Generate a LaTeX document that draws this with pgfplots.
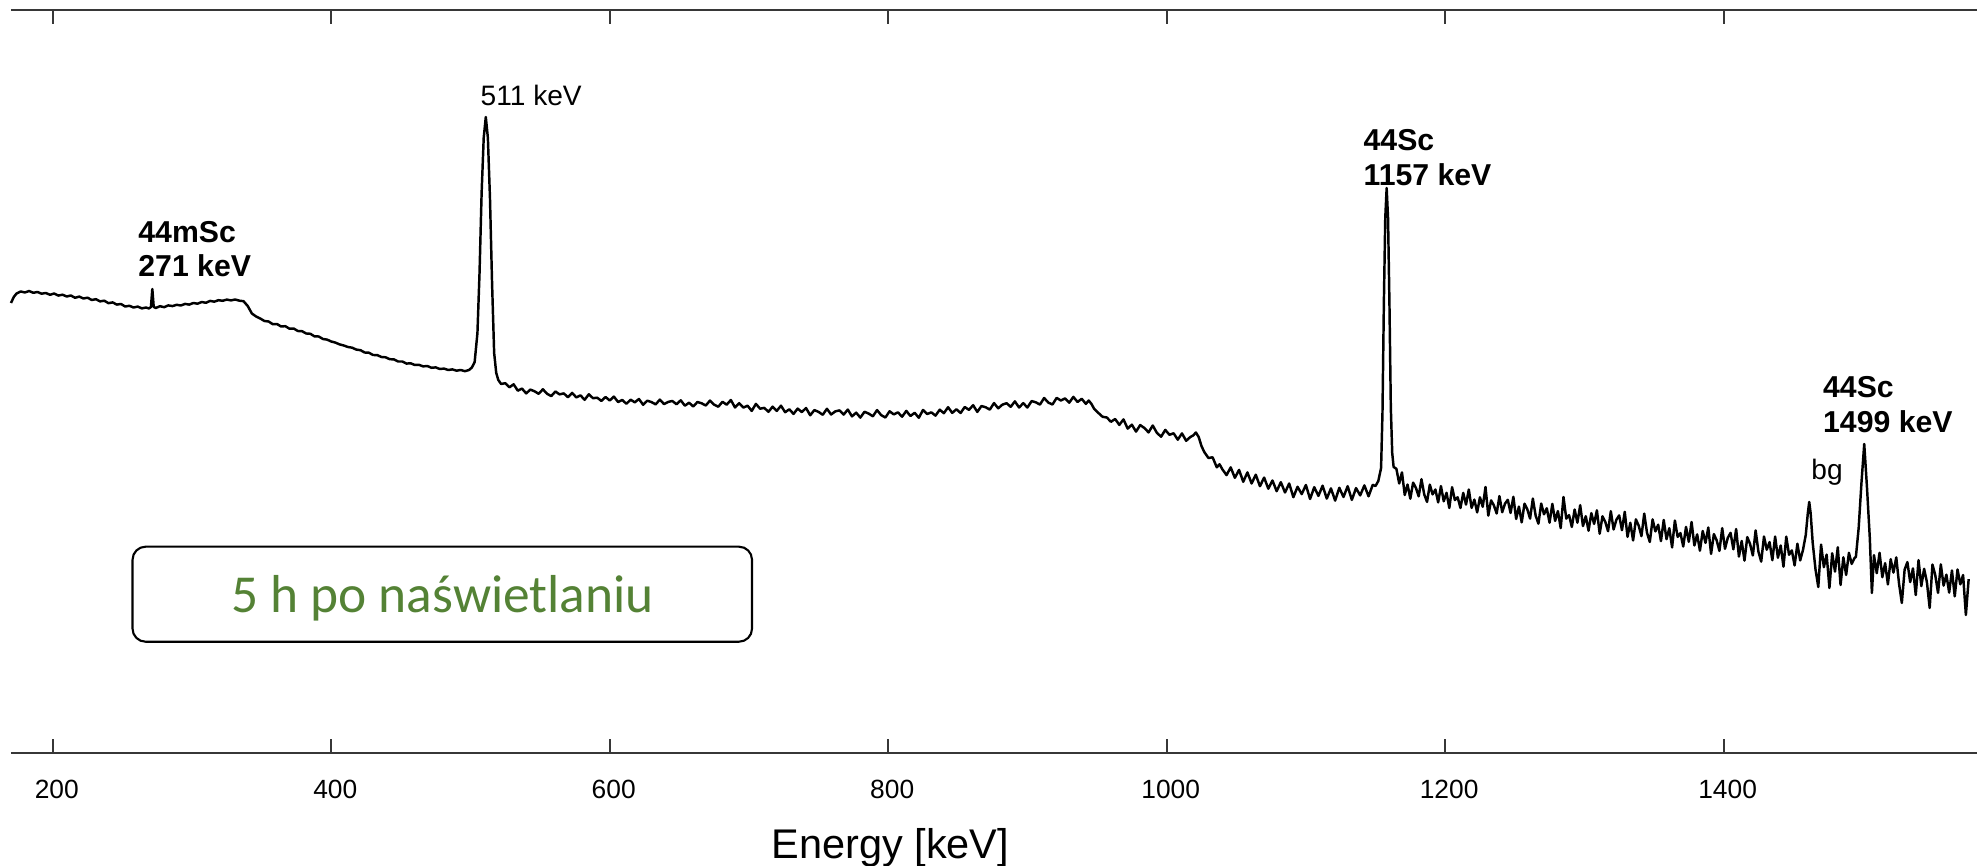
\documentclass[border=0pt]{standalone}
\usepackage{fontspec}
\setmainfont{Liberation Sans}
\newfontfamily\carlito{Carlito}
\usepackage{pgfplots}
\pgfplotsset{compat=1.18}
\definecolor{boxgreen}{RGB}{84,130,53}
\definecolor{axgray}{RGB}{55,55,55}
\begin{document}
\begin{tikzpicture}
\path[use as bounding box] (0,0) rectangle (197.7mm,86.6mm);
\begin{axis}[
  at={(1.1mm,11.3mm)}, anchor=south west,
  width=196.6mm, height=74.3mm, scale only axis,
  xmin=170, xmax=1582, ymin=0, ymax=743,
  axis x line=box, axis y line=none, ytick=\empty,
  xtick={200,400,600,800,1000,1200,1400},
  xticklabel pos=lower,
  tick align=inside,
  major tick length=1.44mm,
  axis line style={axgray, line width=0.6pt},
  every tick/.style={axgray, line width=0.6pt},
  /pgf/number format/assume math mode=true,
  /pgf/number format/1000 sep={},
  xticklabel style={font=\fontsize{7.5}{9}\selectfont, anchor=center, yshift=-3.6mm, xshift=0.4mm},
  clip=false,
]
\addplot[black, line width=0.7pt, line join=round] coordinates {
(170,450)(172,456)(174,459.5)(177,461.5)(180,460.5)(183,462)(186,460.2)(189,461)(192,459.3)(195,460)
(198,458.2)(201,459.5)(204,457.4)(207,458.3)(210,456.5)(213,457.5)(216,455.2)(219,456.4)(222,454.5)(225,455.3)
(228,453)(231,453.8)(234,451.6)(237,452.3)(240,449.8)(243,450.6)(246,448.4)(249,449)(252,446.5)(255,447.2)
(258,445.5)(261,446.4)(264,444.6)(267,445.5)(269,444.5)(270.5,446)(271.5,464)(272.5,446)(274,445)(277,446.8)
(280,445.8)(283,447.6)(286,446.9)(289,448.2)(292,447.5)(295,449.1)(298,448.4)(301,450)(304,449.3)(307,451)
(310,450.2)(313,452.1)(316,451.3)(319,452.8)(322,452.2)(325,453.4)(328,452.6)(331,453.5)(334,452.3)(337,451.8)
(340,447)(343,439.5)(346,436.5)(349,434.5)(352,432)(355,431.5)(358,428.8)(361,429)(364,426.5)(367,426.8)
(370,424.3)(373,424.5)(376,422)(379,421.8)(382,419.5)(385,419.2)(388,416.6)(391,416.5)(394,414)(397,413.4)
(400,411.5)(403,410.4)(406,408.6)(409,407.5)(412,406)(415,405.3)(418,403.4)(421,402.8)(424,400.5)(427,400.3)
(430,398)(433,397.9)(436,396)(439,395.7)(442,393.8)(445,393.6)(448,391.5)(451,391.5)(454,389.4)(457,389.7)
(460,388)(463,388.2)(466,386.6)(469,387)(472,385.2)(475,385.6)(478,384)(481,384.4)(484,383)(487,383.6)
(490,382.3)(493,383)(496,381.8)(499,383)
(501,385.5)(503,391)(505,420)(506.5,480)(508,560)(509.5,615)(511,636)(512.5,615)(514,555)(515.5,470)
(517,400)(518.5,380)(520,373)(522,369)
(525,369.8)(528,365.7)(531,368.7)(534,362.3)(537,364.4)(540,359.6)(543,363.4)(546,361.7)(549,359.2)(552,363.7)
(555,359.2)(558,356.9)(561,361.5)(564,358.6)(567,359.6)(570,355.8)(573,360.1)(576,355.6)(579,357.6)(582,353.2)
(585,358.7)(588,354.8)(591,355.3)(594,352.1)(597,356.0)(600,352.5)(603,356.4)(606,351.0)(609,353.0)(612,349.2)
(615,353.3)(618,350.7)(621,354.0)(624,348.2)(627,352.3)(630,350.9)(633,348.6)(636,353.4)(639,348.9)(642,351.1)
(645,352.0)(648,348.7)(651,352.7)(654,347.3)(657,350.3)(660,346.5)(663,351.0)(666,349.7)(669,347.5)(672,352.4)
(675,348.3)(678,346.3)(681,351.2)(684,348.3)(687,353)(690,345.5)(693,349.8)(696,345.4)(699,347.3)(702,342.1)
(705,349.1)(708,344.3)(711,345.1)(714,341.2)(717,346.3)(720,342.1)(723,347.3)(726,340.8)(729,343.7)(732,339.1)
(735,344.4)(738,340.9)(741,345.0)(744,337.7)(747,342.9)(750,341.1)(753,338.2)(756,344.2)(759,338.5)(762,341.6)
(765,342.6)(768,338.4)(771,343.4)(774,336.6)(777,340.3)(780,335.4)(783,341.2)(786,339.4)(789,336.7)(792,342.9)
(795,337.8)(798,335.5)(801,341.7)(804,338.6)(807,340.6)(810,336.3)(813,342.1)(816,337.0)(819,340.2)(822,335.2)
(825,343.0)(828,339.0)(831,340.6)(834,337.4)(837,343.3)(840,339.8)(843,345.8)(846,340.1)(849,343.7)(852,340.0)
(855,346.0)(858,343.1)(861,347.8)(864,341.1)(867,347.0)(870,345.7)(873,343.4)(876,349.9)(879,344.7)(882,348.3)
(885,349.8)(888,346.2)(891,351.6)(894,345.5)(897,349.8)(900,345.5)(903,351.9)(906,350.7)(909,348.4)(912,355.0)
(915,350.4)(918,348.5)(921,355.1)(924,352.5)(927,354.6)(930,350.3)(933,356.1)(936,351.0)(939,354.2)(942,349.1)
(944,352.5)(946,349)(948,344)(951,340)(954,336.2)(957,335.5)(960,331.2)(963,334.0)(966,328.1)(969,333.6)
(972,324.4)(975,328.3)(978,321.4)(981,327.9)(984,325.0)(987,320.6)(990,327.5)(993,320.1)(996,316.3)(999,323.1)
(1002,318.2)(1005,319.7)(1008,313.3)(1011,319.6)(1014,312.2)(1017,316)(1019,317.5)(1021,320.5)(1023,316)(1025,307)
(1027,301)(1030,295)(1033,295.7)(1036,285.7)(1038,288.7)
(1040,283.7)(1043,277.9)(1046,285.6)(1049,275.2)(1052,283.1)(1055,271.2)(1058,280.6)(1061,269.5)(1064,278.3)(1067,266.8)
(1070,275.4)(1073,264.3)(1076,272.5)(1079,261.8)(1082,270.8)(1085,260.5)(1088,269.5)(1091,255.8)(1094,266.2)(1097,258.9)
(1100,268)(1103,254)(1106,265.8)(1109,257.1)(1112,267.3)(1115,254.4)(1118,264.6)(1121,252.4)(1124,265.2)(1127,256)
(1130,266.8)(1133,253.1)(1136,264.9)(1139,257.6)(1142,267.6)(1145,256.7)(1148,268.1)(1150,267)
(1152,272)(1154,285)(1155,340)(1156,450)(1157,535)(1158,565)(1159,535)(1160,450)(1161,345)(1162,300)(1163,286)
(1165,284.2)(1167,269.5)(1169,280.6)(1171,258)(1173,268.5)(1175,254.3)(1177,270.4)(1179,265.2)(1181,256.7)(1183,273.8)
(1185,258.5)(1187,251.1)(1189,268.3)(1191,258.6)(1193,263.5)(1195,250.6)(1197,266.9)(1199,251.7)(1201,260.2)(1203,245)
(1205,265.8)(1207,252.9)(1209,255.7)(1211,245)(1213,260.1)(1215,248.4)(1217,263.5)(1219,245.1)(1221,253.4)(1223,240.6)
(1225,255.7)(1227,246.2)(1229,266)(1231,237.4)(1233,252.6)(1235,247.7)(1237,239.5)(1239,256.9)(1241,240.8)(1243,249.4)
(1245,253.2)(1247,240)(1249,256.2)(1251,234)(1253,246.4)(1255,230.6)(1257,249.3)(1259,243.8)(1261,234.4)(1263,254.4)
(1265,237.4)(1267,229.3)(1269,249.4)(1271,238.7)(1273,244.7)(1275,230.3)(1277,249.1)(1279,232.1)(1281,241.9)(1283,224.9)
(1285,256)(1287,234.4)(1289,237.9)(1291,226)(1293,243.5)(1295,230.3)(1297,247.8)(1299,226.9)(1301,236.8)(1303,222.3)
(1305,239.8)(1307,229.1)(1309,242.7)(1311,219.3)(1313,236.7)(1315,231.2)(1317,221.8)(1319,241.8)(1321,223.5)(1323,233.3)
(1325,237.6)(1327,222.8)(1329,241.2)(1331,216.2)(1333,230.2)(1335,212.5)(1337,233.6)(1339,227.4)(1341,216.9)(1343,239.4)
(1345,220.2)(1347,211)(1349,233.6)(1351,221.6)(1353,228.3)(1355,211.9)(1357,233)(1359,213.8)(1361,224.8)(1363,205.6)
(1365,232.5)(1367,216.1)(1369,219.9)(1371,206.5)(1373,226.1)(1375,211.2)(1377,231)(1379,207.5)(1381,218.6)(1383,202.3)
(1385,222)(1387,210.1)(1389,225.5)(1391,199.1)(1393,218.9)(1395,212.7)(1397,202.1)(1399,224.8)(1401,204.2)(1403,215.2)
(1405,220.1)(1407,203.7)(1409,224)(1411,196.4)(1413,212)(1415,192.4)(1417,215.9)(1419,209.1)(1421,197.5)(1423,222.6)
(1425,201.4)(1427,191.4)(1429,216.5)(1431,203.3)(1433,210.9)(1435,192.8)(1437,216.4)(1439,195.2)(1441,207.5)(1443,186.3)
(1445,216.3)(1447,198.2)(1449,202.6)(1451,187.5)(1453,209.3)(1455,192.6)(1457,203)(1459,218)(1460.5,240)(1461.5,251)
(1462.5,240)(1464,210)(1466,183.7)(1468,166)(1470,208.4)(1472,185.8)(1474,198.4)(1476,165)(1478,199.7)(1480,181.4)
(1482,205.7)(1484,168)(1486,195.7)(1488,178)(1490,200.2)(1492,189.1)(1494,195)(1495,196)(1497,225)(1499,270)
(1501,309)(1503,265)(1505,215)(1506.5,160)(1508,197.8)(1510,179.8)(1512,200.2)(1514,175.8)(1516,189.8)(1518,168.6)
(1520,193.8)(1522,180.4)(1524,195.6)(1526,169.3)(1528,150)(1530,183.3)(1532,190.9)(1534,170.9)(1536,184.6)(1538,158)
(1540,192.8)(1542,166.9)(1544,184.2)(1546,171)(1548,145)(1550,188.4)(1552,178)(1554,160.1)(1556,188.6)(1558,167.4)
(1560,178.3)(1562,160.4)(1564,182.5)(1566,156.6)(1568,183.5)(1570,168.7)(1572,178)(1574,138)(1576,173.9)
};
% annotations
\node[anchor=base west, inner sep=0, font=\fontsize{8}{9.6}\selectfont] at (axis cs:506.8,647) {511 keV};
\node[anchor=base west, inner sep=0, font=\bfseries\fontsize{8.6}{10}\selectfont] at (axis cs:261,510) {44mSc};
\node[anchor=base west, inner sep=0, font=\bfseries\fontsize{8.6}{10}\selectfont] at (axis cs:261,476) {271 keV};
\node[anchor=base west, inner sep=0, font=\bfseries\fontsize{8.6}{10}\selectfont] at (axis cs:1141,602) {44Sc};
\node[anchor=base west, inner sep=0, font=\bfseries\fontsize{8.6}{10}\selectfont] at (axis cs:1141,567) {1157 keV};
\node[anchor=base west, inner sep=0, font=\bfseries\fontsize{8.6}{10}\selectfont] at (axis cs:1471,355) {44Sc};
\node[anchor=base west, inner sep=0, font=\bfseries\fontsize{8.6}{10}\selectfont] at (axis cs:1471,320) {1499 keV};
\node[anchor=base west, inner sep=0, font=\fontsize{8}{9.6}\selectfont] at (axis cs:1462.6,273) {bg};
% text box
\draw[black, line width=0.6pt, rounded corners=1.3mm] (axis cs:257.3,206.3) rectangle (axis cs:702.2,111.3);
\node[anchor=base, inner sep=0, text=boxgreen, font=\carlito\fontsize{15.2}{18}\selectfont] at (axis cs:480,140.3) {5 h po naświetlaniu};
% axis title
\node[anchor=base, inner sep=0, font=\fontsize{11.8}{14}\selectfont] at (axis cs:801.6,-105) {Energy [keV]};
\end{axis}
\end{tikzpicture}
\end{document}
